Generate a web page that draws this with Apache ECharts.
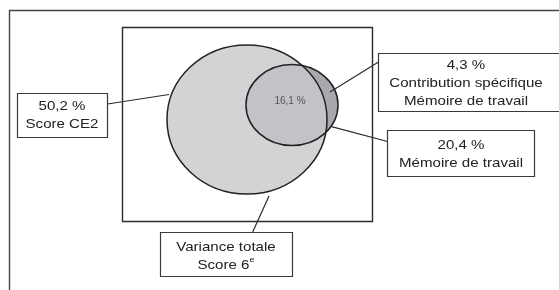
<!DOCTYPE html>
<html><head><meta charset="utf-8">
<script src="https://cdn.jsdelivr.net/npm/echarts@6/dist/echarts.min.js"></script>
<style>html,body{margin:0;padding:0;background:#fff}#c{width:559px;height:290px}</style>
</head><body><div id="c"></div>
<script>
// ---- data ----
const categories = ['Score CE2', 'Contribution spécifique\nMémoire de travail', 'Mémoire de travail', 'Variance totale\nScore 6{sup|e}'];
const values = [50.2, 4.3, 20.4, null];
const overlapValue = 16.1;

// ---- layout (positions in a 559x290 plane) ----
const framePts = [[9.5, 300], [9.5, 10.5], [570, 10.5]];
const panelRect = [122.5, 27.5, 372.5, 221.5];
const ellipses = [
  { name: 'Score CE2', cx: 247, cy: 119.5, rx: 80, ry: 74.5 },
  { name: 'Mémoire de travail', cx: 292, cy: 105, rx: 46, ry: 40.5 }
];
const overlapPos = [290, 101];
const boxRects = [
  [17.5, 93.5, 107.5, 137.5],
  [378.5, 53.5, 575, 111.5],
  [387.5, 130.5, 534.5, 176.5],
  [160.5, 232.5, 292.5, 276.5]
];
const boxTextPos = [[62, 115], [466, 83], [461, 154], [226, 256]];
const leaders = [
  [[107.5, 104], [169, 94.5]],
  [[330, 92], [378.5, 62]],
  [[331.5, 126.7], [387.5, 141.5]],
  [[252.7, 232], [269, 196]]
];

function fmt(v) { return v.toFixed(1).replace('.', ',') + ' %'; }

const FONT = "'Liberation Sans', Arial, Helvetica, sans-serif";
const chart = echarts.init(document.getElementById('c'), null, { renderer: 'canvas' });

function ell(api, e, style) {
  const c = api.coord([e.cx, e.cy]);
  const s = api.size([e.rx, e.ry]);
  return { type: 'ellipse', shape: { cx: c[0], cy: c[1], rx: s[0], ry: s[1] }, style: style };
}

const fillColors = ['#d2d3d5', '#a8a9ad'];

chart.setOption({
  animation: false,
  grid: { left: 0, right: 0, top: 0, bottom: 0 },
  xAxis: { type: 'value', min: 0, max: 559, show: false },
  yAxis: { type: 'value', min: 0, max: 290, inverse: true, show: false },
  series: [
    { // outer frame + panel
      type: 'custom', z: 1, silent: true,
      data: [[0]],
      renderItem: function (params, api) {
        const pts = framePts.map(p => api.coord(p));
        const a = api.coord([panelRect[0], panelRect[1]]);
        const b = api.coord([panelRect[2], panelRect[3]]);
        return { type: 'group', children: [
          { type: 'polyline', shape: { points: pts }, style: { stroke: '#444', lineWidth: 1.4, fill: null } },
          { type: 'rect', shape: { x: a[0], y: a[1], width: b[0] - a[0], height: b[1] - a[1] }, style: { stroke: '#2b2b2b', lineWidth: 1.4, fill: '#fff' } }
        ]};
      }
    },
    { // circle fills
      type: 'custom', z: 2, silent: true,
      data: ellipses.map((e, i) => [i]),
      renderItem: function (params, api) {
        const e = ellipses[params.dataIndex];
        return ell(api, e, { fill: fillColors[params.dataIndex], stroke: null });
      }
    },
    { // overlap tint (big circle over small)
      type: 'custom', z: 3, silent: true,
      data: [[0]],
      renderItem: function (params, api) {
        return ell(api, ellipses[0], { fill: '#d2d3d5', opacity: 0.62, stroke: null });
      }
    },
    { // circle outlines + overlap label
      type: 'custom', z: 4, silent: true,
      data: ellipses.map((e, i) => [i]),
      renderItem: function (params, api) {
        const e = ellipses[params.dataIndex];
        const children = [ell(api, e, { fill: null, stroke: '#222', lineWidth: 1.5 })];
        if (params.dataIndex === 1) {
          const p = api.coord(overlapPos);
          children.push({ type: 'text', x: p[0], y: p[1], style: { text: fmt(overlapValue), align: 'center', verticalAlign: 'middle', fontSize: 10, fontFamily: FONT, fill: '#555' } });
        }
        return { type: 'group', children: children };
      }
    },
    { // leader lines
      type: 'custom', z: 5, silent: true,
      data: leaders.map((l, i) => [i]),
      renderItem: function (params, api) {
        const l = leaders[params.dataIndex];
        const a = api.coord(l[0]), b = api.coord(l[1]);
        return { type: 'line', shape: { x1: a[0], y1: a[1], x2: b[0], y2: b[1] }, style: { stroke: '#2b2b2b', lineWidth: 1.2 } };
      }
    },
    { // label boxes
      type: 'custom', z: 6, silent: true,
      data: categories.map((c, i) => [i]),
      renderItem: function (params, api) {
        const i = params.dataIndex;
        const r = boxRects[i];
        const a = api.coord([r[0], r[1]]), b = api.coord([r[2], r[3]]);
        const t = api.coord(boxTextPos[i]);
        const txt = (values[i] != null ? fmt(values[i]) + '\n' : '') + categories[i];
        return { type: 'group', children: [
          { type: 'rect', shape: { x: a[0], y: a[1], width: b[0] - a[0], height: b[1] - a[1] }, style: { fill: '#fff', stroke: '#3a3a3a', lineWidth: 1.2 } },
          { type: 'text', x: t[0], y: t[1], scaleX: 1.16, style: {
              text: txt, align: 'center', verticalAlign: 'middle', fontSize: 13, lineHeight: 18,
              fontFamily: FONT, fill: '#222',
              rich: { sup: { fontSize: 8, lineHeight: 12, verticalAlign: 'top', fontFamily: FONT, fill: '#222' } }
          } }
        ]};
      }
    }
  ]
});
</script>
</body></html>
